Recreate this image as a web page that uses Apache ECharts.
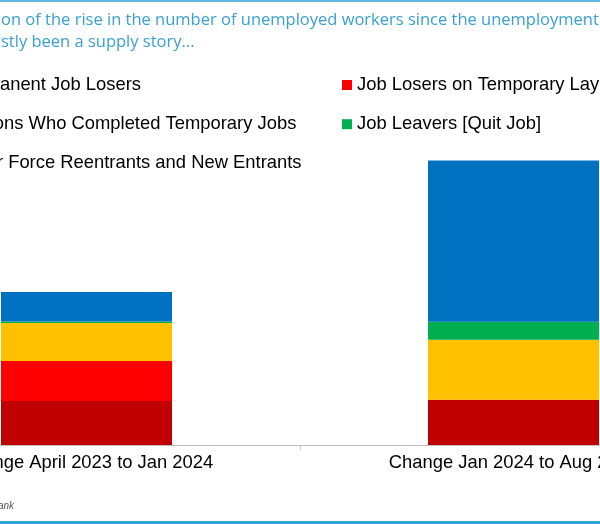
<!DOCTYPE html>
<html>
<head>
<meta charset="utf-8">
<script src="https://cdn.jsdelivr.net/npm/echarts@6/dist/echarts.min.js"></script>
<style>
  html, body { margin: 0; padding: 0; width: 600px; height: 524px; overflow: hidden; background: #ffffff; }
  #chart { position: absolute; left: -300px; top: 0; width: 1200px; height: 524px; }
</style>
</head>
<body>
<div id="chart"></div>
<script>
// ---- Data (thousands of workers) ----
const categories = ['Change April 2023 to Jan 2024', 'Change Jan 2024 to Aug 2024'];
const seriesNames = [
  'Permanent Job Losers',
  'Job Losers on Temporary Layoff',
  'Persons Who Completed Temporary Jobs',
  'Job Leavers [Quit Job]',
  'Labor Force Reentrants and New Entrants'
];
const permanentJobLosers = [154, 158];
const temporaryLayoff = [140, 0];
const completedTemporaryJobs = [133, 210];
const jobLeavers = [5, 63];
const reentrantsNewEntrants = [103, 564];
const titleLines = [
  'Decomposition of the rise in the number of unemployed workers since the unemployment rate bottomed',
  'in April 2023 has mostly been a supply story...'
];
const titleHiddenPrefixes = ['Decompositi', 'in April 2023 has mo'];
const sourceText = 'Source: BLS, Deutsche Bank';

// ---- Styling ----
const OFF = 300; // container is shifted left by this many px (picture is a crop)
const colors = ['#C00000', '#FF0000', '#FFC000', '#00B050', '#0070C0'];
const FONT = '"Liberation Sans", Arial, sans-serif';
const TITLE_FONT = '"Open Sans", sans-serif';
const titleFontSize = 16.5;
const labelFontSize = 18.4;

const mctx = document.createElement('canvas').getContext('2d');
mctx.font = titleFontSize + 'px "Open Sans"';
const prefixW = titleHiddenPrefixes.map(p => mctx.measureText(p).width);

const valuesList = [permanentJobLosers, temporaryLayoff, completedTemporaryJobs, jobLeavers, reentrantsNewEntrants];

const chart = echarts.init(document.getElementById('chart'), null, { renderer: 'canvas' });
const option = {
  animation: false,
  backgroundColor: '#ffffff',
  color: colors,
  grid: { left: 173, width: 854, top: 102, bottom: 79, containLabel: false },
  legend: [
    {
      orient: 'vertical', left: 241, top: 76, padding: 0, itemGap: 21.2,
      itemWidth: 10, itemHeight: 10, icon: 'rect',
      data: [seriesNames[0], seriesNames[2], seriesNames[4]],
      textStyle: { fontFamily: FONT, fontSize: labelFontSize, color: '#000000' }
    },
    {
      orient: 'vertical', left: 642, top: 76, padding: 0, itemGap: 21.2,
      itemWidth: 10, itemHeight: 10, icon: 'rect',
      data: [seriesNames[1], seriesNames[3]],
      textStyle: { fontFamily: FONT, fontSize: labelFontSize, color: '#000000' }
    }
  ],
  xAxis: {
    type: 'category',
    data: categories,
    axisLine: { show: true, lineStyle: { color: '#BFBFBF', width: 1 } },
    axisTick: { show: true, length: 5, lineStyle: { color: '#BFBFBF' } },
    axisLabel: { fontFamily: FONT, fontSize: labelFontSize, color: '#000000', margin: 9 }
  },
  yAxis: {
    type: 'value', min: 0, max: 1200, show: false,
    splitLine: { show: false }
  },
  series: seriesNames.map((name, i) => ({
    name: name,
    type: 'bar',
    stack: 'total',
    barWidth: 171,
    data: valuesList[i],
    itemStyle: { color: colors[i] }
  })),
  graphic: [
    { type: 'rect', left: 0, top: 0, shape: { width: 1200, height: 2 }, style: { fill: '#62B8DF' }, silent: true },
    { type: 'rect', left: 0, top: 521, shape: { width: 1200, height: 3 }, style: { fill: '#2FA3DB' }, silent: true },
    {
      type: 'text', x: OFF + 1 - prefixW[0], y: 20,
      style: { text: titleLines[0], fontFamily: TITLE_FONT, fontSize: titleFontSize, fill: '#3AA0D2', textVerticalAlign: 'middle', textAlign: 'left' }
    },
    {
      type: 'text', x: OFF + 1 - prefixW[1], y: 42,
      style: { text: titleLines[1], fontFamily: TITLE_FONT, fontSize: titleFontSize, fill: '#3AA0D2', textVerticalAlign: 'middle', textAlign: 'left' }
    },
    {
      type: 'text', x: OFF + 14, y: 506,
      style: { text: sourceText, fontFamily: FONT, fontSize: 10, fontStyle: 'italic', fill: '#595959', textVerticalAlign: 'middle', textAlign: 'right' }
    }
  ]
};
chart.setOption(option);
</script>
</body>
</html>
